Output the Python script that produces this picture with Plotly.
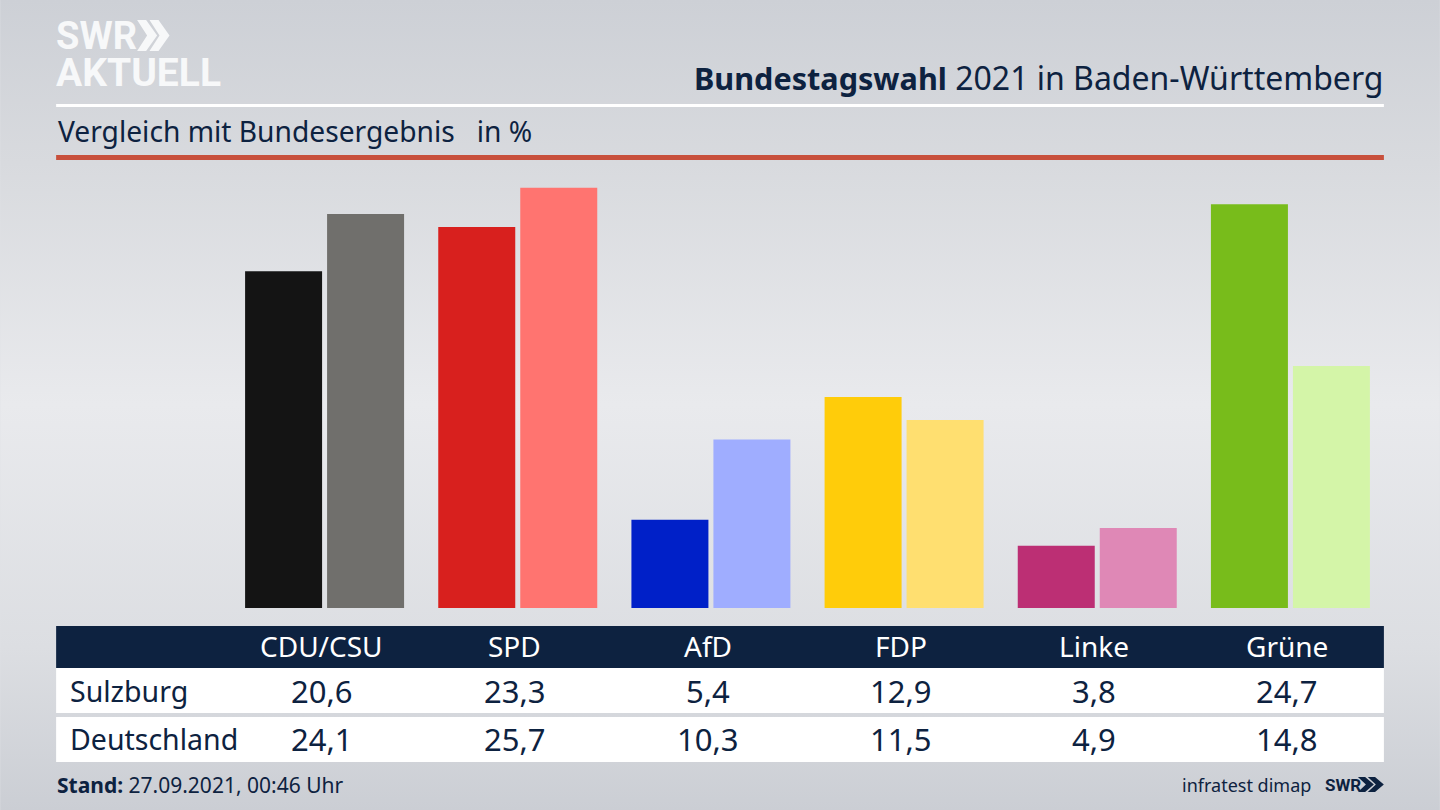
import base64
import plotly.graph_objects as go

parties = ["CDU/CSU", "SPD", "AfD", "FDP", "Linke", "Grüne"]
sulzburg = [20.6, 23.3, 5.4, 12.9, 3.8, 24.7]
deutschland = [24.1, 25.7, 10.3, 11.5, 4.9, 14.8]
row_names = ["Sulzburg", "Deutschland"]
colors_sulzburg = ["#141414", "#d8201e", "#0020c8", "#ffcc0a", "#bc2f74", "#78bc1b"]
colors_deutschland = ["#706f6c", "#ff7470", "#9fadff", "#ffdf70", "#df88b6", "#d4f5a8"]

NAVY = "#0d2240"
FONT = "Noto Sans"
LOGO_FONT = "Roboto"

# plot area in pixels, everything else is placed relative to it
L, R, T, B = 227.9, 1387.1, 158, 608


def xp(px):
    return (px - L) / (R - L)


def yp(px):
    return (B - px) / (B - T)


def fmt(v):
    return f"{v:.1f}".replace(".", ",")


def label(text, x, y, size, color=NAVY, anchor="left", family=FONT, **kw):
    return dict(text=text, x=xp(x), y=yp(y), xref="paper", yref="paper", showarrow=False,
                xanchor=anchor, yanchor="middle", borderpad=0,
                font=dict(family=family, size=size, color=color), **kw)


def band(x0, y0, x1, y1, color):
    return dict(type="rect", xref="paper", yref="paper", x0=xp(x0), x1=xp(x1), y0=yp(y0), y1=yp(y1),
                fillcolor=color, line_width=0, layer="above")


def chevrons(x, top, bottom, width, color):
    # two arrow heads next to each other, logo style
    mid = (top + bottom) / 2
    out = []
    for off in (0, width * 0.62):
        pts = [(x + off, top), (x + off + width * 0.45, top), (x + off + width, mid),
               (x + off + width * 0.45, bottom), (x + off, bottom), (x + off + width * 0.5, mid)]
        path = "M" + " L".join(f"{xp(a):.5f},{yp(b):.5f}" for a, b in pts) + " Z"
        out.append(dict(type="path", xref="paper", yref="paper", path=path,
                        fillcolor=color, line_width=0, layer="above"))
    return out


svg = """<svg xmlns="http://www.w3.org/2000/svg" width="1440" height="810">
<defs><linearGradient id="g" x1="0" y1="0" x2="0" y2="1">
<stop offset="0" stop-color="#cdd0d6"/><stop offset="0.2" stop-color="#d8dade"/>
<stop offset="0.5" stop-color="#e9eaed"/><stop offset="0.8" stop-color="#dcdee2"/>
<stop offset="1" stop-color="#cbced4"/></linearGradient></defs>
<rect width="1440" height="810" fill="url(#g)"/></svg>"""
bg_uri = "data:image/svg+xml;base64," + base64.b64encode(svg.encode()).decode()

fig = go.Figure()
fig.add_trace(go.Bar(x=parties, y=sulzburg, name=row_names[0], marker_color=colors_sulzburg, marker_line_width=0))
fig.add_trace(go.Bar(x=parties, y=deutschland, name=row_names[1], marker_color=colors_deutschland, marker_line_width=0))

shapes = [
    band(56, 104, 1384, 107, "#ffffff"),
    band(56, 155, 1384, 160, "#c8503c"),
    band(56, 626, 1384, 668, NAVY),
    band(56, 668, 1384, 713, "#ffffff"),
    band(56, 717, 1384, 762, "#ffffff"),
]
shapes += chevrons(137, 20, 51, 20, "#f7f8f9")
shapes += chevrons(1358, 777, 792, 16, NAVY)

annotations = [
    # explicit box heights so the two logo lines do not claim each other's space
    label("<b>SWR</b>", 55, 36, 38, "#f7f8f9", family=LOGO_FONT, height=36),
    label("<b>AKTUELL</b>", 55, 73, 39, "#f7f8f9", family=LOGO_FONT, height=36),
    label('<b style="font-size:30.6px">Bundestagswahl</b> <span style="font-size:32px">2021 in Baden-Württemberg</span>',
          1384, 78, 32, anchor="right"),
    label("Vergleich mit Bundesergebnis   in %", 57, 131, 28.2),
    label("<b>Stand:</b> 27.09.2021, 00:46 Uhr", 56, 785, 21),
    label("infratest dimap", 1312, 785, 18, anchor="right"),
    label("<b>SWR</b>", 1324, 785, 17, family=LOGO_FONT),
    label(row_names[0], 69, 691, 28.5),
    label(row_names[1], 69, 739, 28.5),
]
# table columns sit on the party categories, shifted to the seam of each bar pair
for i, party in enumerate(parties):
    cx = 321.5 + 193.1 * i
    annotations.append(label(party, cx, 646, 28, "#ffffff", anchor="center"))
    annotations.append(label(fmt(sulzburg[i]), cx, 691, 31, anchor="center"))
    annotations.append(label(fmt(deutschland[i]), cx, 739, 31, anchor="center"))

fig.update_layout(
    width=1440, height=810,
    margin=dict(l=L, r=1440 - R, t=T, b=810 - B, autoexpand=False),
    barmode="group", bargap=0.151, bargroupgap=0.061,
    showlegend=False,
    paper_bgcolor="#dfe1e5", plot_bgcolor="rgba(0,0,0,0)",
    xaxis=dict(visible=False, range=[-0.5, 5.5]),
    yaxis=dict(visible=False, range=[0, (B - T) / 16.35]),
    shapes=shapes,
    annotations=annotations,
    images=[dict(source=bg_uri, xref="paper", yref="paper", x=xp(0), y=yp(0),
                 sizex=xp(1440) - xp(0), sizey=yp(0) - yp(810),
                 sizing="stretch", xanchor="left", yanchor="top", layer="below")],
)

fig.write_html("out.html", config={"displayModeBar": False},
               post_script="document.body.style.margin='0';")
